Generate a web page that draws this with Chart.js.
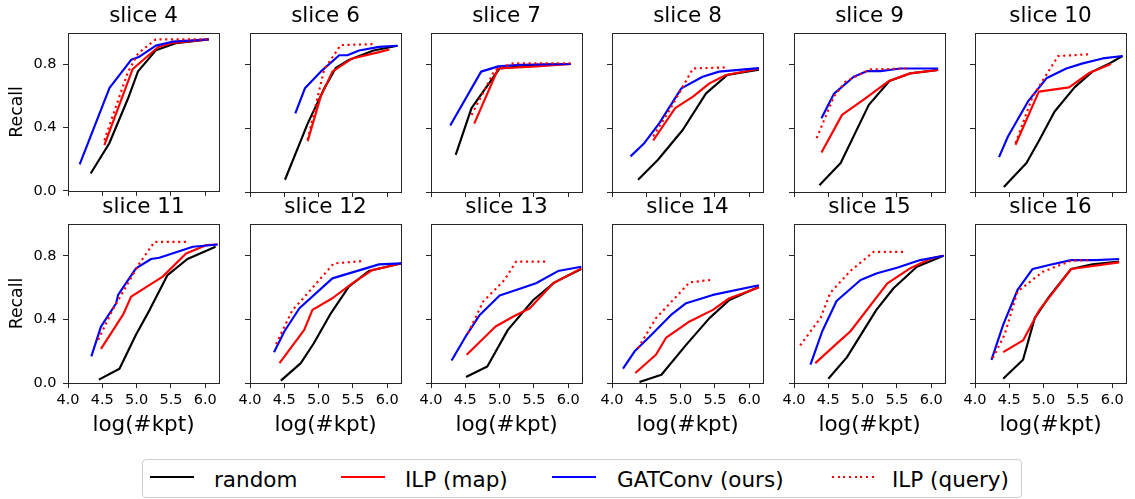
<!DOCTYPE html>
<html>
<head>
<meta charset="utf-8">
<script src="https://cdn.jsdelivr.net/npm/chart.js@4.4.1/dist/chart.umd.min.js"></script>
<style>
  html, body { margin: 0; padding: 0; background: #fff; }
  body { width: 1135px; height: 499px; position: relative; overflow: hidden; font-family: 'DejaVu Sans', sans-serif; }
  canvas { position: absolute; }
  #legend { position: absolute; left: 142px; top: 459px; width: 880px; height: 39px; box-sizing: border-box;
            border: 1px solid #cfcfcf; border-radius: 4px; background: #fff; }
  #legend .sw { position: absolute; top: 16px; height: 2px; width: 44px; }
  #legend .lb { position: absolute; top: 1px; line-height: 37px; font-size: 21.5px; color: #000; white-space: nowrap; }
</style>
</head>
<body>
<div id="legend"></div>
<script>
// panel titles
const sliceNames = ['slice 4', 'slice 6', 'slice 7', 'slice 8', 'slice 9', 'slice 10',
                    'slice 11', 'slice 12', 'slice 13', 'slice 14', 'slice 15', 'slice 16'];

// axis ticks
const xTickValues = [4.0, 4.5, 5.0, 5.5, 6.0];
const yTickValues = [0.0, 0.4, 0.8];

// series names + colours (legend order)
const seriesNames = ['random', 'ILP (map)', 'GATConv (ours)', 'ILP (query)'];
const seriesColors = ['#000000', '#ff0000', '#0000ff', '#ff0000'];

// [log(#kpt), recall] per panel
const randomPts = [
  [[4.33,0.11],[4.6,0.30],[4.87,0.58],[5.02,0.757],[5.28,0.89],[5.57,0.935],[6.05,0.96]],
  [[4.51,0.077],[4.84,0.43],[5.08,0.65],[5.25,0.78],[5.44,0.83],[5.8,0.89],[6.15,0.92]],
  [[4.36,0.234],[4.59,0.527],[5.0,0.777],[5.53,0.80],[6.04,0.805]],
  [[4.38,0.077],[4.67,0.203],[5.03,0.39],[5.37,0.62],[5.68,0.736],[6.14,0.77]],
  [[4.37,0.042],[4.68,0.182],[5.09,0.548],[5.39,0.698],[5.69,0.746],[6.1,0.767]],
  [[4.42,0.031],[4.75,0.182],[4.94,0.328],[5.16,0.506],[5.45,0.658],[5.71,0.757],[5.96,0.809],[6.15,0.855]],
  [[4.45,0.021],[4.75,0.09],[4.99,0.303],[5.19,0.46],[5.45,0.679],[5.74,0.78],[6.15,0.857]],
  [[4.45,0.015],[4.74,0.125],[4.93,0.25],[5.18,0.44],[5.44,0.606],[5.73,0.704],[6.2,0.752]],
  [[4.51,0.038],[4.82,0.104],[5.12,0.334],[5.49,0.522],[5.8,0.633],[6.19,0.717]],
  [[4.40,0.006],[4.72,0.052],[5.08,0.24],[5.42,0.408],[5.71,0.522],[6.14,0.605]],
  [[4.50,0.027],[4.77,0.161],[5.2,0.46],[5.45,0.596],[5.79,0.731],[6.18,0.80]],
  [[4.41,0.027],[4.70,0.146],[4.87,0.408],[5.08,0.543],[5.40,0.717],[5.71,0.746],[6.1,0.763]]
];
const mapPts = [
  [[4.53,0.29],[4.94,0.77],[5.31,0.91],[5.5,0.935],[6.05,0.96]],
  [[4.84,0.32],[5.03,0.6],[5.2,0.757],[5.49,0.84],[5.88,0.88],[6.03,0.896]],
  [[4.63,0.43],[4.98,0.777],[5.53,0.79],[6.04,0.805]],
  [[4.6,0.324],[4.92,0.527],[5.18,0.6],[5.42,0.683],[5.66,0.736],[6.14,0.775]],
  [[4.40,0.249],[4.70,0.485],[5.04,0.589],[5.38,0.698],[5.69,0.746],[6.1,0.767]],
  [[4.59,0.297],[4.93,0.631],[5.37,0.658],[5.67,0.75],[5.98,0.805]],
  [[4.48,0.215],[4.80,0.428],[4.92,0.543],[5.38,0.669],[5.72,0.815],[6.01,0.867],[6.18,0.871]],
  [[4.43,0.125],[4.79,0.334],[4.91,0.46],[5.2,0.533],[5.49,0.627],[5.78,0.71],[6.2,0.752]],
  [[4.52,0.178],[4.94,0.355],[5.2,0.418],[5.44,0.47],[5.78,0.627],[6.19,0.721]],
  [[4.34,0.063],[4.64,0.178],[4.79,0.286],[5.13,0.387],[5.47,0.46],[5.71,0.533],[6.14,0.6]],
  [[4.31,0.125],[4.63,0.251],[4.82,0.324],[5.36,0.627],[5.69,0.721],[6.0,0.784],[6.18,0.80]],
  [[4.41,0.194],[4.70,0.268],[4.94,0.46],[5.11,0.554],[5.40,0.717],[6.1,0.759]]
];
const gatPts = [
  [[4.17,0.167],[4.605,0.652],[4.92,0.83],[5.04,0.85],[5.28,0.92],[5.52,0.945],[6.05,0.96]],
  [[4.66,0.495],[4.80,0.652],[5.03,0.757],[5.30,0.86],[5.42,0.86],[5.59,0.89],[5.88,0.913],[6.15,0.92]],
  [[4.28,0.418],[4.73,0.757],[4.98,0.79],[5.29,0.80],[6.04,0.805]],
  [[4.27,0.224],[4.47,0.307],[4.69,0.433],[5.01,0.652],[5.32,0.725],[5.56,0.757],[6.14,0.779]],
  [[4.40,0.464],[4.58,0.617],[4.87,0.725],[5.06,0.76],[5.26,0.76],[5.55,0.777],[6.1,0.777]],
  [[4.35,0.219],[4.48,0.349],[4.77,0.568],[5.04,0.715],[5.33,0.777],[5.57,0.809],[5.86,0.84],[6.15,0.855]],
  [[4.34,0.167],[4.48,0.355],[4.70,0.50],[4.73,0.554],[4.99,0.721],[5.21,0.78],[5.33,0.788],[5.82,0.857],[6.18,0.871]],
  [[4.35,0.194],[4.50,0.324],[4.72,0.47],[5.2,0.658],[5.88,0.746],[6.2,0.752]],
  [[4.30,0.142],[4.52,0.303],[4.71,0.428],[5.0,0.55],[5.24,0.585],[5.53,0.627],[5.85,0.704],[6.19,0.731]],
  [[4.16,0.09],[4.33,0.199],[4.55,0.293],[4.86,0.428],[5.08,0.502],[5.47,0.554],[6.14,0.615]],
  [[4.24,0.115],[4.41,0.324],[4.62,0.516],[4.97,0.648],[5.21,0.69],[5.5,0.725],[5.84,0.773],[6.18,0.80]],
  [[4.24,0.146],[4.41,0.366],[4.62,0.585],[4.84,0.717],[5.08,0.742],[5.40,0.773],[5.76,0.773],[6.1,0.78]]
];
const queryPts = [
  [[4.53,0.32],[4.87,0.75],[5.02,0.87],[5.28,0.96],[6.05,0.96]],
  [[4.84,0.33],[5.08,0.77],[5.32,0.924],[5.8,0.93]],
  [[4.59,0.485],[4.93,0.767],[5.2,0.81],[6.04,0.81]],
  [[4.6,0.35],[4.84,0.516],[5.18,0.777],[5.68,0.784]],
  [[4.33,0.339],[4.58,0.60],[4.75,0.694],[5.11,0.771],[5.69,0.777]],
  [[4.59,0.307],[4.84,0.6],[5.21,0.855],[5.69,0.867]],
  [[4.44,0.272],[4.65,0.46],[5.04,0.752],[5.26,0.888],[5.74,0.888]],
  [[4.38,0.245],[4.62,0.46],[4.75,0.52],[5.22,0.752],[5.64,0.767]],
  [[4.54,0.313],[4.76,0.512],[5.07,0.648],[5.24,0.763],[5.68,0.763]],
  [[4.38,0.219],[4.64,0.408],[4.89,0.522],[5.13,0.633],[5.44,0.648]],
  [[4.09,0.236],[4.39,0.412],[4.53,0.568],[4.82,0.704],[5.16,0.825],[5.62,0.825]],
  [[4.26,0.157],[4.43,0.303],[4.62,0.575],[4.99,0.70],[5.40,0.769],[5.69,0.773]]
];

const FONT = "'DejaVu Sans', sans-serif";
Chart.defaults.font.family = FONT;
Chart.defaults.color = '#000';

// panel grid (plot-area boxes)
const panelLefts = [68, 250, 431, 612, 794, 975];
const rowTops = [33, 224];
const plotW = 151, plotH = 159, titleH = 33, padR = 6;

// all four spines, drawn over the lines like matplotlib
const framePlugin = {
  id: 'frame',
  afterDatasetsDraw(chart) {
    const { ctx, chartArea: a } = chart;
    ctx.save();
    ctx.strokeStyle = '#262626';
    ctx.lineWidth = 1;
    const l = Math.round(a.left) + 0.5, t = Math.round(a.top) + 0.5;
    const r = Math.round(a.right) + 0.5, b = Math.round(a.bottom) + 0.5;
    ctx.strokeRect(l, t, r - l, b - t);
    ctx.restore();
  }
};

function toXY(pts) {
  return pts.map(p => ({ x: p[0], y: p[1] }));
}

function makeDatasets(i) {
  const sets = [randomPts[i], mapPts[i], gatPts[i], queryPts[i]];
  return sets.map((pts, k) => ({
    label: seriesNames[k],
    data: toXY(pts),
    borderColor: seriesColors[k],
    borderWidth: 2.15,
    borderDash: k === 3 ? [2.15, 3.55] : [],
    borderJoinStyle: 'round',
    pointRadius: 0,
    tension: 0,
    fill: false,
    order: 4 - k
  }));
}

sliceNames.forEach((name, i) => {
  const col = i % 6, row = Math.floor(i / 6);
  const wy = col === 0 ? 68 : 20;
  const hx = row === 1 ? 60 : 14;

  const canvas = document.createElement('canvas');
  canvas.width = wy + plotW + padR;
  canvas.height = titleH + plotH + hx;
  canvas.style.left = (panelLefts[col] - wy) + 'px';
  canvas.style.top = (rowTops[row] - titleH) + 'px';
  document.body.appendChild(canvas);

  new Chart(canvas.getContext('2d'), {
    type: 'line',
    data: { datasets: makeDatasets(i) },
    options: {
      responsive: false,
      animation: false,
      devicePixelRatio: 1,
      layout: { padding: { left: 0, right: padR, top: 0, bottom: 0 } },
      plugins: {
        legend: { display: false },
        tooltip: { enabled: false },
        title: {
          display: true,
          fullSize: false,
          text: name,
          color: '#000',
          font: { size: 21.5, weight: 'normal', family: FONT },
          padding: { top: 3.9, bottom: 3.3 }
        }
      },
      scales: {
        x: {
          type: 'linear',
          min: 4.0,
          max: 6.2,
          afterBuildTicks: s => { s.ticks = xTickValues.map(v => ({ value: v })); },
          afterFit: s => { s.height = hx; },
          border: { display: false },
          grid: { drawOnChartArea: false, drawTicks: true, tickLength: 5, color: '#262626', lineWidth: 1 },
          ticks: {
            display: row === 1,
            padding: 4,
            maxRotation: 0,
            color: '#000',
            font: { size: 14.5 },
            callback: v => Number(v).toFixed(1)
          },
          title: {
            display: row === 1,
            text: 'log(#kpt)',
            color: '#000',
            font: { size: 21.5 },
            padding: { top: 0, bottom: 4.4 }
          }
        },
        y: {
          min: 0,
          max: 1.0,
          afterBuildTicks: s => { s.ticks = yTickValues.map(v => ({ value: v })); },
          afterFit: s => { s.width = wy; },
          border: { display: false },
          grid: { drawOnChartArea: false, drawTicks: true, tickLength: 5, color: '#262626', lineWidth: 1 },
          ticks: {
            display: col === 0,
            padding: 6.5,
            color: '#000',
            font: { size: 14.5 },
            callback: v => Number(v).toFixed(1)
          },
          title: {
            display: col === 0,
            text: 'Recall',
            color: '#000',
            font: { size: 17.3 },
            padding: { top: 6.8, bottom: 0 }
          }
        }
      }
    },
    plugins: [framePlugin]
  });
});

// shared legend under the grid
const legend = document.getElementById('legend');
const swatchLefts = [7, 198, 409, 689];
const labelLefts = [71, 262, 474, 749];
seriesNames.forEach((name, k) => {
  const sw = document.createElement('span');
  sw.className = 'sw';
  sw.style.left = swatchLefts[k] + 'px';
  if (k === 3) {
    sw.style.width = '42px';
    sw.style.background = 'repeating-linear-gradient(90deg, ' + seriesColors[k] + ' 0 2px, transparent 2px 5.7px)';
  } else {
    sw.style.background = seriesColors[k];
  }
  legend.appendChild(sw);
  const lb = document.createElement('span');
  lb.className = 'lb';
  lb.style.left = labelLefts[k] + 'px';
  lb.textContent = name;
  legend.appendChild(lb);
});
</script>
</body>
</html>
